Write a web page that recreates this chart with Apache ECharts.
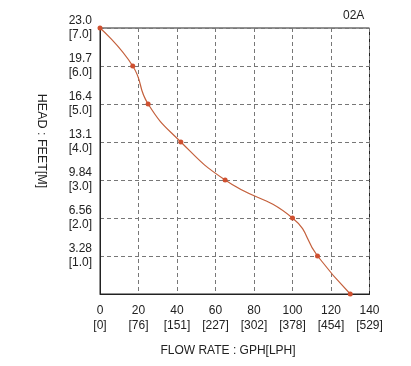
<!DOCTYPE html>
<html><head><meta charset="utf-8">
<script src="https://cdn.jsdelivr.net/npm/echarts@6/dist/echarts.min.js"></script>
<style>html,body{margin:0;padding:0;background:#fff}#c{width:411px;height:366px}</style>
</head><body><div id="c"></div>
<script>
const flowGPH = [0, 17, 25, 42, 65, 100, 113, 130];
const headM = [7.0, 6.0, 5.0, 4.0, 3.0, 2.0, 1.0, 0.0];
const xTickGPH = ['0','20','40','60','80','100','120','140'];
const xTickLPH = ['0','76','151','227','302','378','454','529'];
const yTickFeet = ['', '3.28','6.56','9.84','13.1','16.4','19.7','23.0'];
const yTickM = ['', '1.0','2.0','3.0','4.0','5.0','6.0','7.0'];

const chart = echarts.init(document.getElementById('c'), null, {renderer:'canvas'});
const pts = flowGPH.map((x,i)=>[x, headM[i]]);
const font = 'Liberation Sans, Arial, sans-serif';
chart.setOption({
  animation:false,
  grid:{left:100, right:41.5, top:28, bottom:72, show:true, borderColor:'#222', borderWidth:1, containLabel:false},
  xAxis:{type:'value', min:0, max:140, interval:20,
    axisLine:{show:true, onZero:false, lineStyle:{color:'#222'}},
    axisTick:{show:false},
    splitLine:{show:true, lineStyle:{color:'#777', type:[4,3], width:1}},
    axisLabel:{margin:9, color:'#222', fontFamily:font, fontSize:12, lineHeight:15,
      formatter:(v)=>{const i=Math.round(v/20); return xTickGPH[i]+'\n['+xTickLPH[i]+']';}}
  },
  yAxis:{type:'value', min:0, max:7, interval:1,
    axisLine:{show:true, lineStyle:{color:'#222'}},
    axisTick:{show:false},
    splitLine:{show:true, lineStyle:{color:'#777', type:[4,3], width:1}},
    axisLabel:{margin:8, color:'#222', fontFamily:font, fontSize:12, lineHeight:14, showMinLabel:false,
      formatter:(v)=>{const i=Math.round(v); return i===0?'':yTickFeet[i]+'\n['+yTickM[i]+']';}}
  },
  graphic:[
    {type:'text', left:343, top:10, style:{text:'02A', fill:'#222', font:'12px '+font}},
    {type:'text', x:41, y:141, rotation:-Math.PI/2, style:{text:'HEAD : FEET[M]', fill:'#222', font:'12.5px '+font, align:'center', verticalAlign:'middle'}},
    {type:'text', x:228, y:351, style:{text:'FLOW RATE : GPH[LPH]', fill:'#222', font:'12px '+font, align:'center', verticalAlign:'middle'}}
  ],
  series:[
    {type:'line', data:pts, smooth:0.5, showSymbol:true, symbol:'circle', symbolSize:5,
      lineStyle:{color:'#c4603c', width:1.2}, itemStyle:{color:'#cf5030'}, z:3}
  ]
});
</script></body></html>
